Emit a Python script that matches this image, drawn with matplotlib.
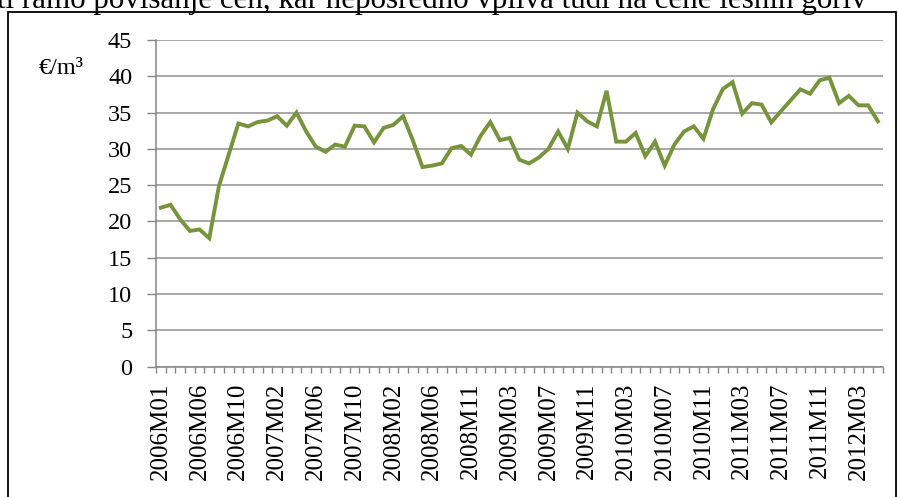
import matplotlib
matplotlib.use("Agg")
import matplotlib.pyplot as plt
from matplotlib.patches import Rectangle

# monthly price of wood fuel, €/m3
values = [21.9, 22.3, 20.3, 18.7, 18.9, 17.7, 24.9, 29.2, 33.5, 33.1,
          33.7, 33.9, 34.5, 33.2, 35.0, 32.4, 30.3, 29.6, 30.6, 30.3,
          33.2, 33.1, 30.9, 32.9, 33.3, 34.5, 31.2, 27.5, 27.7, 28.0,
          30.1, 30.4, 29.2, 31.8, 33.7, 31.2, 31.5, 28.5, 28.0, 28.8,
          30.0, 32.4, 30.0, 35.0, 33.8, 33.1, 38.0, 31.0, 31.0, 32.2,
          29.0, 31.0, 27.7, 30.6, 32.4, 33.1, 31.4, 35.5, 38.25, 39.2,
          34.85, 36.3, 36.1, 33.65, 35.2, 36.7, 38.2, 37.6, 39.45, 39.8,
          36.3, 37.3, 36.0, 36.0, 33.8]

# labels shown on every 4th category
tick_labels = ["2006M01", "2006M06", "2006M10", "2007M02", "2007M06", "2007M10",
               "2008M02", "2008M06", "2008M11", "2009M03", "2009M07", "2009M11",
               "2010M03", "2010M07", "2010M11", "2011M03", "2011M07", "2011M11",
               "2012M03"]
label_step = 4

plt.rcParams['font.family'] = ['Liberation Serif', 'DejaVu Serif']

fig = plt.figure(figsize=(8.98, 4.97), dpi=100)
ax = fig.add_axes([0.1737, 0.2622, 0.983 - 0.1737, 0.9195 - 0.2622])

x = list(range(len(values)))
ax.plot(x, values, color='#77933C', linewidth=2.8, solid_joinstyle='miter')

ax.set_xlim(-0.5, len(values) - 0.5)
ax.set_ylim(0, 45)
ax.set_yticks(range(0, 46, 5))
ax.yaxis.grid(True, color='#9a9a9a', linewidth=1.2)
ax.set_axisbelow(True)

ax.set_xticks([i * label_step for i in range(len(tick_labels))])
ax.set_xticklabels(tick_labels, rotation=90)
ax.set_xticks([i - 0.5 for i in range(len(values) + 1)], minor=True)

ax.tick_params(axis='x', which='major', length=0, pad=11.5, labelsize=18)
ax.tick_params(axis='x', which='minor', length=4, color='#868686', width=1)
ax.tick_params(axis='y', length=6.5, color='#868686', width=1, pad=10.5,
               labelsize=17.5)

for s in ['top', 'right']:
    ax.spines[s].set_visible(False)
for s in ['left', 'bottom']:
    ax.spines[s].set_color('#868686')
    ax.spines[s].set_linewidth(1.1)

fig.text(61 / 898, 1 - 68 / 497, "€/m³", fontsize=17.5, ha='center', va='center')

# frame around the chart and the cut text line above it
fig.patches.append(Rectangle((7.5 / 898, -0.1), (896 - 7.5) / 898, 1.1 - 12 / 497,
                             transform=fig.transFigure, fill=False,
                             edgecolor='black', linewidth=1.3))
fig.text(-0.003, 1 - 8 / 497, "ti ramo povišanje cen, kar neposredno vpliva tudi na cene lesnih goriv",
         fontsize=22.3, ha='left', va='baseline')

fig.savefig("out.png", dpi=100)
